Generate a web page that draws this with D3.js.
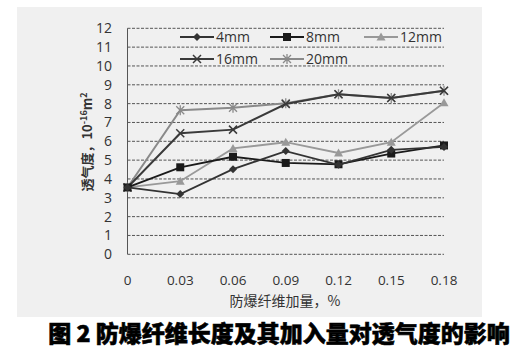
<!DOCTYPE html>
<html><head><meta charset="utf-8">
<script src="https://cdn.jsdelivr.net/npm/d3@7"></script>
<style>body{margin:0;background:#fff}svg{display:block}</style>
</head><body><svg id="c" width="520" height="352"></svg>
<script>
const categories = ["0","0.03","0.06","0.09","0.12","0.15","0.18"];
const yTicks = [0,1,2,3,4,5,6,7,8,9,10,11,12];
const s4mm  = [3.55,3.2,4.52,5.48,4.75,5.55,5.7];
const s8mm  = [3.55,4.62,5.18,4.85,4.78,5.35,5.78];
const s12mm = [3.55,3.88,5.62,5.95,5.38,5.95,8.05];
const s16mm = [3.55,6.43,6.62,7.98,8.5,8.3,8.68];
const s20mm = [3.55,7.65,7.78,8.02,8.5,8.3,8.68];
const seriesNames = ["4mm","8mm","12mm","16mm","20mm"];
const seriesData = [s4mm,s8mm,s12mm,s16mm,s20mm];
const seriesColors = ["#333","#1a1a1a","#999","#3a3a3a","#8a8a8a"];
const seriesMarkers = ["diamond","square","triangle","x","asterisk"];

const svg = d3.select("#c");
svg.append("rect").attr("x",17).attr("y",7).attr("width",465).attr("height",310).attr("fill","#f0f0f0");

const x = d3.scalePoint().domain(categories).range([127.5,444]);
const y = d3.scaleLinear().domain([0,12]).range([254.3,28.3]);
const font = "'Open Sans','DejaVu Sans',sans-serif";

// gridlines
svg.append("g").selectAll("line").data(yTicks).join("line")
  .attr("x1",127.5).attr("x2",444).attr("y1",d=>y(d)).attr("y2",d=>y(d))
  .attr("stroke","#555").attr("stroke-width",1).attr("stroke-dasharray","3,1.5");
svg.append("line").attr("x1",127.5).attr("x2",127.5).attr("y1",y(12)).attr("y2",y(0))
  .attr("stroke","#555").attr("stroke-width",1);

// y axis labels
svg.append("g").selectAll("text").data(yTicks).join("text")
  .attr("x",112).attr("y",d=>y(d)).attr("dy","0.35em").attr("text-anchor","end")
  .attr("font-family",font).attr("font-size",14).attr("fill","#333").text(d=>d);
// x axis labels
svg.append("g").selectAll("text").data(categories).join("text")
  .attr("x",d=>x(d)).attr("y",285).attr("text-anchor","middle")
  .attr("font-family",font).attr("font-size",13.5).attr("fill","#333").text(d=>d);

svg.append("text").attr("x",285).attr("y",306).attr("text-anchor","middle")
  .attr("font-family","'Noto Sans CJK SC',sans-serif").attr("font-size",14).attr("fill","#333")
  .text("防爆纤维加量，%");

const yt = svg.append("text").attr("transform","translate(92,142) rotate(-90)").attr("text-anchor","middle")
  .attr("font-family","'Noto Sans CJK SC',sans-serif").attr("font-size",13).attr("font-weight","bold").attr("fill","#333");
yt.append("tspan").text("透气度，10");
yt.append("tspan").attr("font-size",9).attr("dy",-5).text("-16");
yt.append("tspan").attr("dy",5).text("m");
yt.append("tspan").attr("font-size",9).attr("dy",-5).text("2");

svg.append("text").attr("x",279).attr("y",342).attr("text-anchor","middle")
  .attr("font-family","'Noto Sans CJK SC',sans-serif").attr("font-size",23).attr("font-weight","900").attr("fill","#000")
  .attr("stroke","#000").attr("stroke-width",0.6)
  .text("图 2  防爆纤维长度及其加入量对透气度的影响");

function marker(g, type, cx, cy, color){
  if(type==="diamond") g.append("path").attr("d",`M${cx},${cy-4}L${cx+4},${cy}L${cx},${cy+4}L${cx-4},${cy}Z`).attr("fill",color);
  else if(type==="square") g.append("rect").attr("x",cx-4).attr("y",cy-4).attr("width",8).attr("height",8).attr("fill",color);
  else if(type==="triangle") g.append("path").attr("d",`M${cx},${cy-4.5}L${cx+4.5},${cy+3.5}L${cx-4.5},${cy+3.5}Z`).attr("fill",color);
  else if(type==="x") g.append("path").attr("d",`M${cx-4},${cy-4}L${cx+4},${cy+4}M${cx-4},${cy+4}L${cx+4},${cy-4}`).attr("stroke",color).attr("stroke-width",1.5);
  else g.append("path").attr("d",`M${cx-4},${cy-4}L${cx+4},${cy+4}M${cx-4},${cy+4}L${cx+4},${cy-4}M${cx},${cy-5}L${cx},${cy+5}`).attr("stroke",color).attr("stroke-width",1.3);
}

const line = d3.line().x((d,i)=>x(categories[i])).y(d=>y(d));
const order = [4,2,3,1,0];
order.forEach(k=>{
  const g = svg.append("g");
  g.append("path").datum(seriesData[k]).attr("d",line).attr("fill","none")
    .attr("stroke",seriesColors[k]).attr("stroke-width",k>=3?2:1.8);
  seriesData[k].forEach((v,i)=>marker(g,seriesMarkers[k],x(categories[i]),y(v),seriesColors[k]));
});

// legend
const legendPos = [[180,37],[270,37],[364,37],[180,59],[270,59]];
seriesNames.forEach((n,k)=>{
  const [lx,ly] = legendPos[k];
  const g = svg.append("g");
  g.append("line").attr("x1",lx).attr("x2",lx+34).attr("y1",ly).attr("y2",ly).attr("stroke",seriesColors[k]).attr("stroke-width",1.8);
  marker(g,seriesMarkers[k],lx+17,ly,seriesColors[k]);
  g.append("text").attr("x",lx+36).attr("y",ly).attr("dy","0.35em").attr("font-family",font)
    .attr("font-size",14).attr("fill","#333").text(n);
});
</script></body></html>
